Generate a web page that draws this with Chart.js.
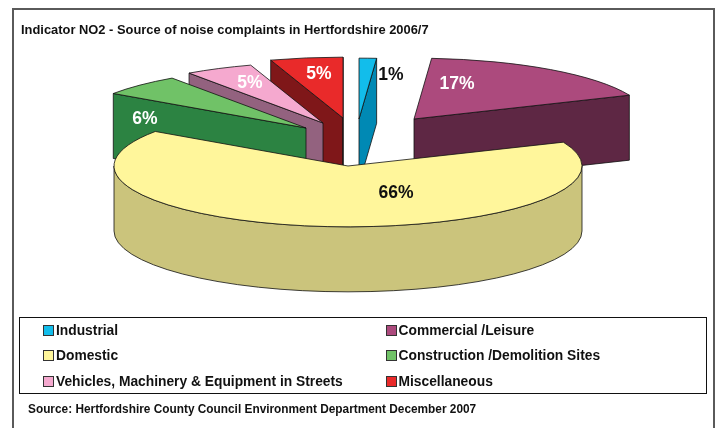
<!DOCTYPE html>
<html>
<head>
<meta charset="utf-8">
<script src="https://cdn.jsdelivr.net/npm/chart.js@4"></script>
<style>
  html, body { margin: 0; padding: 0; background: #fff; overflow: hidden; }
  body { width: 716px; height: 428px; position: relative; font-family: "Liberation Sans", Arial, sans-serif; }
  canvas { position: absolute; left: 0; top: 0; }
  #frame { position: absolute; left: 12px; top: 8px; width: 699px; height: 430px; border: 2px solid #5a5a5a; }
  #legend { position: absolute; left: 19px; top: 317px; width: 686px; height: 75px; border: 1px solid #111; background: #fff;
    display: grid; grid-template-columns: 342.5px 1fr; grid-auto-rows: 25.3px; padding-top: 0; box-sizing: content-box; }
  .item { display: flex; align-items: center; font-weight: bold; font-size: 13.8px; color: #111; padding-left: 23px; white-space: nowrap; }
  .box { width: 9px; height: 9px; border: 1px solid #333; margin-right: 2px; }
  #source { position: absolute; left: 28px; top: 402px; font-weight: bold; font-size: 11.85px; color: #111; white-space: nowrap; }
</style>
</head>
<body>
<canvas id="noisePie" width="716" height="428"></canvas>
<div id="frame"></div>
<div id="legend"></div>
<div id="source">Source: Hertfordshire County Council Environment Department December 2007</div>
<script>
const chartTitle = 'Indicator NO2 - Source of noise complaints in Hertfordshire 2006/7';
const sources = ['Industrial', 'Commercial /Leisure', 'Domestic', 'Construction /Demolition Sites', 'Vehicles, Machinery & Equipment in Streets', 'Miscellaneous'];
const shares = [1.2, 17.4, 66, 5.7, 4.7, 5];

const topColors = ['#12bdeb', '#ac4a7d', '#fff69b', '#70c267', '#f5a9cf', '#e92a2a'];
const wallColors = ['#0089b4', '#5e2744', '#cbc47c', '#2c8342', '#93627f', '#7f1719'];
const labelColors = ['#111', '#fff', '#111', '#fff', '#fff', '#fff'];

// how far each slice is pulled out of the pie, in px
const explodeX = [10, 65, -1, -43, -26, -6];
const explodeY = [-21, -21, 26, -12, -17, -22];
// label position relative to the slice tip
const labelX = [32, 43, 48, -161, -73, -24];
const labelY = [-44, -35, 27, -9, -40, -44];
// back slices first, domestic has to go on top
const drawOrder = [5, 4, 3, 0, 1, 2];

const tilt = 0.26;
const depth = 65;

const pie3d = {
  id: 'pie3d',
  beforeDatasetsDraw(chart) {
    const ctx = chart.ctx;
    const arcs = chart.getDatasetMeta(0).data;
    drawOrder.forEach((i) => {
      const arc = arcs[i];
      const r = arc.outerRadius;
      const a0 = arc.startAngle;
      const a1 = arc.endAngle;
      const x = arc.x + explodeX[i];
      const y = arc.y + explodeY[i];
      const px = (a) => x + r * Math.cos(a);
      const py = (a) => y + r * tilt * Math.sin(a);

      ctx.save();
      ctx.lineWidth = 0.8;
      ctx.strokeStyle = '#111';
      ctx.lineJoin = 'round';
      ctx.fillStyle = wallColors[i];

      const wall = (a) => {
        ctx.beginPath();
        ctx.moveTo(x, y);
        ctx.lineTo(px(a), py(a));
        ctx.lineTo(px(a), py(a) + depth);
        ctx.lineTo(x, y + depth);
        ctx.closePath();
        ctx.fill();
        ctx.stroke();
      };
      if (Math.cos(a0) < 0) wall(a0);
      if (Math.cos(a1) > 0) wall(a1);

      // curved outside, only the part facing us
      const from = Math.max(a0, 0);
      const to = Math.min(a1, Math.PI);
      if (from < to) {
        ctx.beginPath();
        ctx.ellipse(x, y, r, r * tilt, 0, from, to);
        ctx.ellipse(x, y + depth, r, r * tilt, 0, to, from, true);
        ctx.closePath();
        ctx.fill();
        ctx.stroke();
      }

      // top face is the library's arc, squashed
      ctx.save();
      ctx.translate(x, y);
      ctx.scale(1, tilt);
      ctx.translate(-arc.x, -arc.y);
      arc.draw(ctx);
      ctx.restore();

      ctx.beginPath();
      ctx.moveTo(x, y);
      ctx.ellipse(x, y, r, r * tilt, 0, a0, a1);
      ctx.closePath();
      ctx.stroke();
      ctx.restore();
    });
    return false;
  },
  afterDraw(chart) {
    const ctx = chart.ctx;
    const arcs = chart.getDatasetMeta(0).data;
    ctx.save();
    ctx.font = 'bold 17.5px "Liberation Sans", Arial, sans-serif';
    ctx.textAlign = 'center';
    ctx.textBaseline = 'middle';
    arcs.forEach((arc, i) => {
      ctx.fillStyle = labelColors[i];
      ctx.fillText(shares[i].toFixed(0) + '%', arc.x + explodeX[i] + labelX[i], arc.y + explodeY[i] + labelY[i]);
    });
    ctx.restore();
  }
};

const chart = new Chart(document.getElementById('noisePie'), {
  type: 'pie',
  data: {
    labels: sources,
    datasets: [{
      data: shares,
      backgroundColor: topColors,
      borderWidth: 0
    }]
  },
  options: {
    responsive: false,
    animation: false,
    radius: 234,
    layout: { padding: { left: 21, right: 39, top: 0, bottom: 188.6 } },
    plugins: {
      legend: { display: false },
      tooltip: { enabled: false },
      title: {
        display: true,
        text: chartTitle,
        align: 'start',
        color: '#111',
        font: { family: '"Liberation Sans", Arial, sans-serif', size: 12.9, weight: 'bold', lineHeight: 1.2 },
        padding: { top: 22.5, bottom: 2.6 }
      }
    }
  },
  plugins: [pie3d]
});

// legend is plain html, filled from the chart's own labels and colours
const legendEl = document.getElementById('legend');
chart.data.labels.forEach((label, i) => {
  const item = document.createElement('div');
  item.className = 'item';
  const box = document.createElement('span');
  box.className = 'box';
  box.style.background = topColors[i];
  item.appendChild(box);
  item.appendChild(document.createTextNode(label));
  legendEl.appendChild(item);
});
</script>
</body>
</html>
